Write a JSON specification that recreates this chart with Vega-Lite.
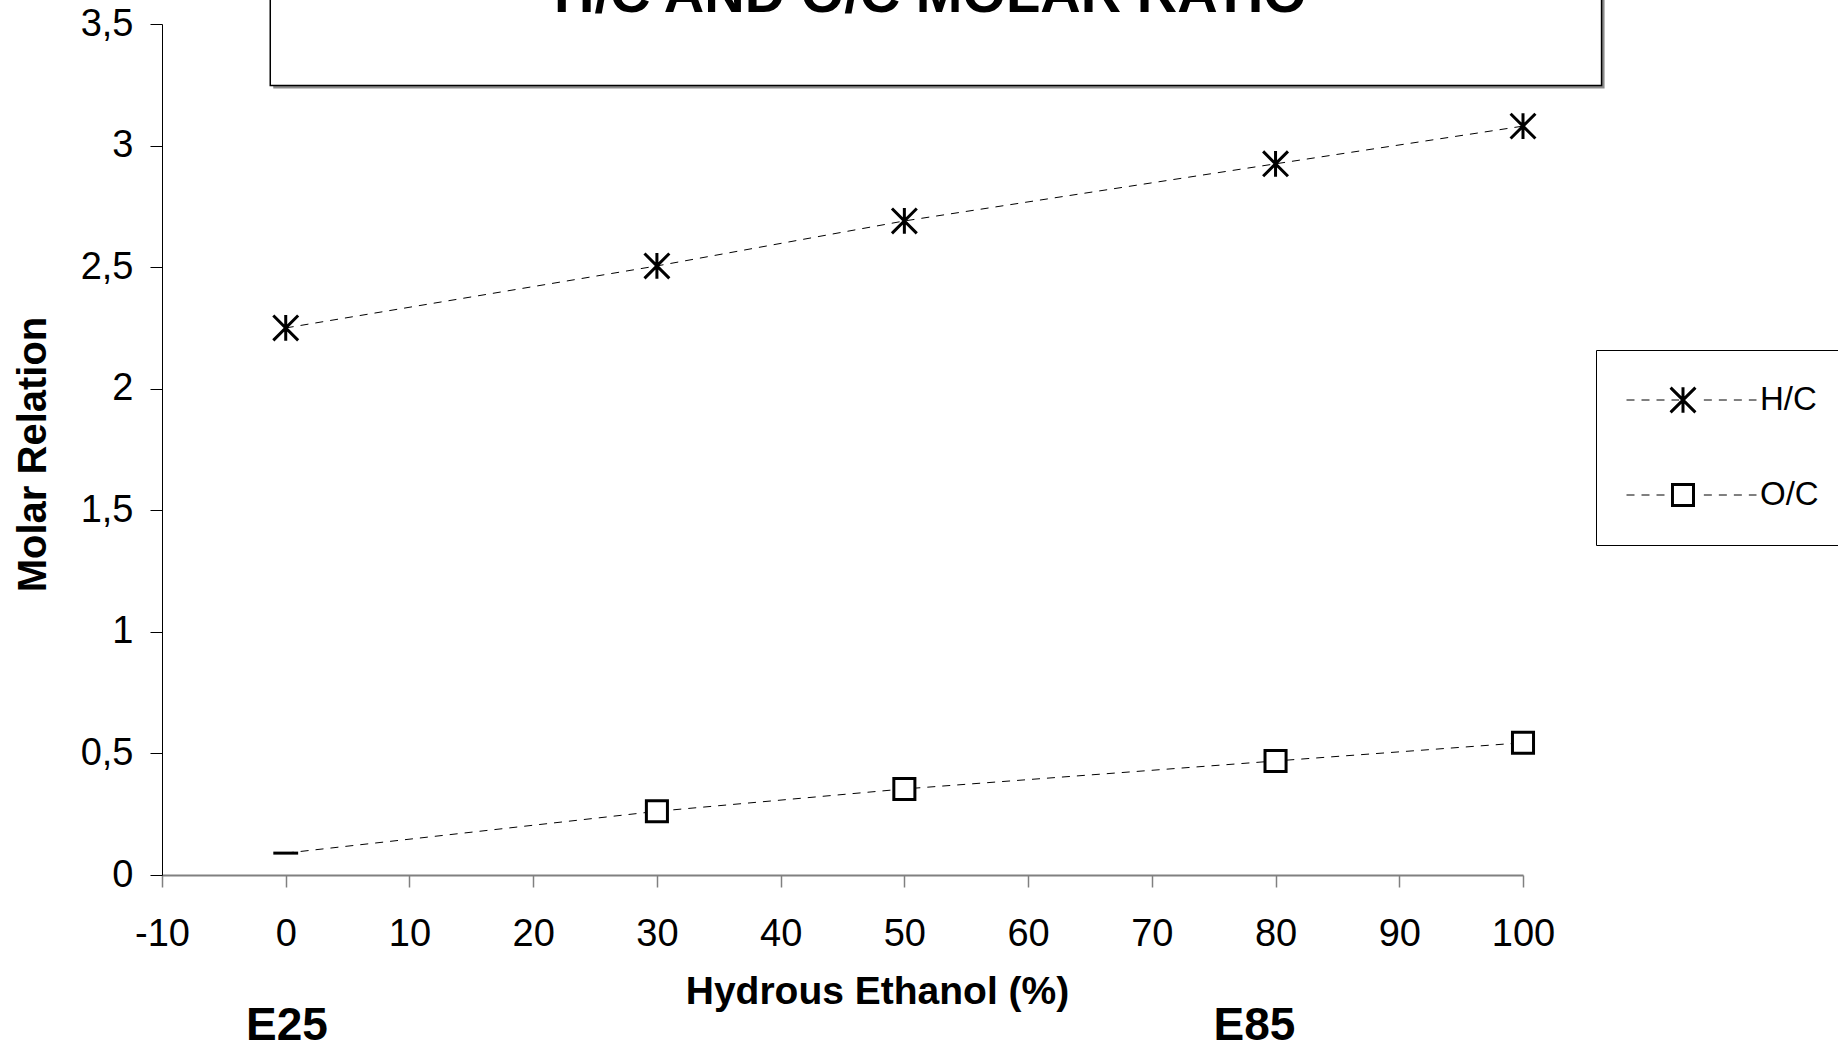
{
  "$schema": "https://vega.github.io/schema/vega-lite/v6.json",
  "width": 1361,
  "height": 851,
  "autosize": {"type": "none"},
  "padding": {"left": 162, "top": 24, "right": 315, "bottom": 172},
  "background": "white",
  "config": {
    "view": {"stroke": null},
    "font": "Liberation Sans",
    "axis": {"grid": false}
  },
  "datasets": {
    "ratios": [
      {"pct": 0, "series": "H/C", "ratio": 2.25},
      {"pct": 30, "series": "H/C", "ratio": 2.505},
      {"pct": 50, "series": "H/C", "ratio": 2.69},
      {"pct": 80, "series": "H/C", "ratio": 2.925},
      {"pct": 100, "series": "H/C", "ratio": 3.08},
      {"pct": 0, "series": "O/C", "ratio": 0.09},
      {"pct": 30, "series": "O/C", "ratio": 0.262},
      {"pct": 50, "series": "O/C", "ratio": 0.354},
      {"pct": 80, "series": "O/C", "ratio": 0.469},
      {"pct": 100, "series": "O/C", "ratio": 0.544}
    ],
    "blends": [
      {"blend": "E25", "pct": 0.1},
      {"blend": "E85", "pct": 78.3}
    ]
  },
  "layer": [
    {
      "data": {"name": "ratios"},
      "mark": {"type": "line", "color": "black", "strokeWidth": 1},
      "encoding": {
        "x": {
          "field": "pct",
          "type": "quantitative",
          "scale": {"domain": [-10, 100], "nice": false, "zero": false},
          "axis": {
            "title": "Hydrous Ethanol (%)",
            "values": [-10, 0, 10, 20, 30, 40, 50, 60, 70, 80, 90, 100],
            "labelExpr": "'' + datum.value",
            "tickSize": 12,
            "tickColor": "#808080",
            "tickWidth": 1.5,
            "domainColor": "#808080",
            "domainWidth": 2,
            "labelFontSize": 38,
            "labelColor": "black",
            "labelPadding": 28.5,
            "labelFlush": false,
            "labelOverlap": false,
            "titleFontSize": 39,
            "titleFontWeight": "bold",
            "titleColor": "black",
            "titleX": 715,
            "titleY": 128,
            "titleBaseline": "alphabetic",
            "titleAlign": "center"
          }
        },
        "y": {
          "field": "ratio",
          "type": "quantitative",
          "scale": {"domain": [0, 3.5], "nice": false},
          "axis": {
            "title": "Molar Relation",
            "values": [0, 0.5, 1, 1.5, 2, 2.5, 3, 3.5],
            "labelExpr": "replace('' + datum.value, '.', ',')",
            "tickSize": 12,
            "tickColor": "black",
            "tickWidth": 1,
            "domainColor": "black",
            "domainWidth": 1,
            "labelFontSize": 38,
            "labelColor": "black",
            "labelPadding": 17,
            "labelOverlap": false,
            "titleFontSize": 40,
            "titleFontWeight": "bold",
            "titleColor": "black",
            "titleX": -117,
            "titleY": 430,
            "titleAngle": 270,
            "titleBaseline": "alphabetic",
            "titleAlign": "center"
          }
        },
        "strokeDash": {
          "field": "series",
          "type": "nominal",
          "scale": {"range": [[8, 7], [8, 7]]},
          "legend": {
            "title": null,
            "orient": "none",
            "legendX": 1434,
            "legendY": 326,
            "padding": 30,
            "clipHeight": 40,
            "rowPadding": 55,
            "symbolType": "M-1,0H-0.19M0.19,0H1",
            "symbolSize": 16900,
            "symbolStrokeWidth": 1,
            "symbolStrokeColor": "black",
            "symbolOffset": 0,
            "labelFontSize": 33,
            "labelColor": "black",
            "labelOffset": 3,
            "strokeColor": "black"
          }
        }
      }
    },
    {
      "data": {"name": "ratios"},
      "mark": {"type": "point", "filled": false, "fill": "white", "stroke": "black", "strokeWidth": 3, "size": 729, "opacity": 1},
      "encoding": {
        "x": {"field": "pct", "type": "quantitative"},
        "y": {"field": "ratio", "type": "quantitative"},
        "shape": {
          "field": "series",
          "type": "nominal",
          "condition": {"test": "datum.series === 'O/C' && datum.pct === 0", "value": "M-0.92,0H0.92"},
          "scale": {
            "domain": ["H/C", "O/C"],
            "range": ["M-0.92,-0.92L0.92,0.92M-0.92,0.92L0.92,-0.92M0,-0.95L0,0.95", "M-0.78,-0.78H0.78V0.78H-0.78Z"]
          },
          "legend": {
            "title": null,
            "orient": "none",
            "legendX": 1434,
            "legendY": 326,
            "padding": 30,
            "clipHeight": 40,
            "rowPadding": 55,
            "symbolSize": 729,
            "symbolStrokeWidth": 3,
            "symbolOffset": 40.5,
            "labelFontSize": 33,
            "labelOpacity": 0
          }
        }
      }
    },
    {
      "data": {"values": [{"heading": "H/C AND O/C MOLAR RATIO"}]},
      "layer": [
        {
          "mark": {"type": "rect", "fill": "#8c8c8c", "xOffset": 3, "x2Offset": 3, "yOffset": 3, "y2Offset": 3},
          "encoding": {
            "x": {"datum": -1.25, "type": "quantitative"},
            "x2": {"datum": 106.35},
            "y": {"datum": 3.8, "type": "quantitative"},
            "y2": {"datum": 3.247}
          }
        },
        {
          "mark": {"type": "rect", "fill": "white", "stroke": "black", "strokeWidth": 1.5},
          "encoding": {
            "x": {"datum": -1.25, "type": "quantitative"},
            "x2": {"datum": 106.35},
            "y": {"datum": 3.8, "type": "quantitative"},
            "y2": {"datum": 3.247}
          }
        },
        {
          "mark": {"type": "text", "fontWeight": "bold", "fontSize": 56, "align": "center", "baseline": "alphabetic", "color": "black"},
          "encoding": {
            "x": {"datum": 52.1, "type": "quantitative"},
            "y": {"datum": 3.549, "type": "quantitative"},
            "text": {"field": "heading"}
          }
        }
      ]
    },
    {
      "data": {"name": "blends"},
      "mark": {"type": "text", "fontWeight": "bold", "fontSize": 46, "align": "center", "baseline": "alphabetic", "color": "black"},
      "encoding": {
        "x": {"field": "pct", "type": "quantitative"},
        "y": {"datum": -0.679, "type": "quantitative"},
        "text": {"field": "blend"}
      }
    }
  ]
}
